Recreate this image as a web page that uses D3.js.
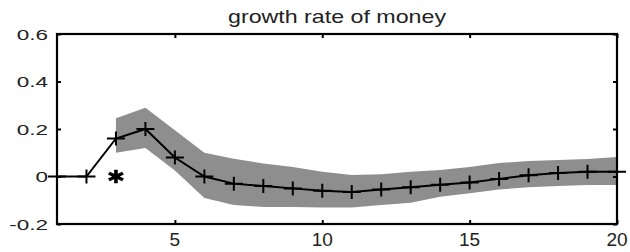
<!DOCTYPE html>
<html lang="en">
<head>
<meta charset="utf-8">
<title>growth rate of money</title>
<script src="https://cdn.jsdelivr.net/npm/d3@7"></script>
<style>
  body { margin: 0; background: #fff; }
  text { font-family: "Liberation Sans", Arial, sans-serif; fill: #222; }
</style>
</head>
<body>
<script>
// response horizon
var steps = [1, 2, 3, 4, 5, 6, 7, 8, 9, 10, 11, 12, 13, 14, 15, 16, 17, 18, 19, 20];
// point estimate
var response = [0, 0, 0.16, 0.20, 0.08, 0.0, -0.03, -0.04, -0.05, -0.06, -0.065, -0.055, -0.045, -0.035, -0.025, -0.01, 0.005, 0.015, 0.02, 0.02];
// confidence band (from step 3 on)
var bandSteps = [3, 4, 5, 6, 7, 8, 9, 10, 11, 12, 13, 14, 15, 16, 17, 18, 19, 20];
var bandUpper = [0.245, 0.29, 0.195, 0.10, 0.075, 0.055, 0.04, 0.02, 0.006, 0.01, 0.02, 0.027, 0.04, 0.057, 0.065, 0.07, 0.074, 0.082];
var bandLower = [0.10, 0.12, 0.025, -0.09, -0.12, -0.128, -0.128, -0.13, -0.13, -0.12, -0.11, -0.085, -0.07, -0.055, -0.045, -0.04, -0.036, -0.036];
// starred point
var starStep = [3];
var starValue = [0];
// ticks
var xTicks = [5, 10, 15, 20];
var yTicks = [-0.2, 0, 0.2, 0.4, 0.6];
var title = "growth rate of money";

var w = 630, h = 252;
var mLeft = 57, mRight = 617, mTop = 34, mBottom = 224;

var x = d3.scaleLinear().domain([1, 20]).range([mLeft, mRight]);
var y = d3.scaleLinear().domain([-0.2, 0.6]).range([mBottom, mTop]);

var svg = d3.select("body").append("svg")
  .attr("width", w)
  .attr("height", h);

//band
var band = bandSteps.map(function(s, i) { return {s: s, lo: bandLower[i], hi: bandUpper[i]}; });
svg.append("path")
  .datum(band)
  .attr("fill", "#8e8e8e")
  .attr("d", d3.area()
    .x(function(d) { return x(d.s); })
    .y0(function(d) { return y(d.lo); })
    .y1(function(d) { return y(d.hi); }));

//ticks, all pointing inward, labels drawn separately
var axes = [
  {a: d3.axisBottom(x).tickValues(xTicks), t: "translate(0," + mBottom + ")"},
  {a: d3.axisTop(x).tickValues(xTicks), t: "translate(0," + mTop + ")"},
  {a: d3.axisLeft(y).tickValues(yTicks), t: "translate(" + mLeft + ",0)"},
  {a: d3.axisRight(y).tickValues(yTicks), t: "translate(" + mRight + ",0)"}
];
axes.forEach(function(o) {
  o.a.tickSizeInner(-4).tickSizeOuter(0).tickFormat("");
  var g = svg.append("g").attr("transform", o.t).call(o.a);
  g.select(".domain").remove();
  g.selectAll(".tick text").remove();
  g.selectAll(".tick line").attr("stroke", "#000").attr("stroke-width", 2);
});

//x labels
svg.selectAll(".xlab")
  .data(xTicks)
  .enter().append("text")
  .attr("class", "xlab")
  .attr("x", function(d) { return x(d); })
  .attr("y", 246)
  .attr("text-anchor", "middle")
  .style("font-size", "19px")
  .text(function(d) { return d; });

//y labels, stretched like the original
svg.selectAll(".ylab")
  .data(yTicks)
  .enter().append("text")
  .attr("class", "ylab")
  .attr("transform", function(d) { return "translate(" + (mLeft - 9) + "," + (y(d) + 5.5) + ") scale(1.5,1)"; })
  .attr("text-anchor", "end")
  .style("font-size", "15px")
  .text(function(d) { return d === 0 ? "0" : String(d); });

//frame
svg.append("rect")
  .attr("x", mLeft).attr("y", mTop)
  .attr("width", mRight - mLeft).attr("height", mBottom - mTop)
  .attr("fill", "none")
  .attr("stroke", "#000")
  .attr("stroke-width", 2.2);

//title
svg.append("text")
  .attr("transform", "translate(" + ((mLeft + mRight) / 2) + ",23) scale(1.29,1)")
  .attr("text-anchor", "middle")
  .style("font-size", "18px")
  .text(title);

//response line
var pts = steps.map(function(s, i) { return {s: s, v: response[i]}; });
svg.append("path")
  .datum(pts)
  .attr("fill", "none")
  .attr("stroke", "#000")
  .attr("stroke-width", 2)
  .attr("d", d3.line()
    .x(function(d) { return x(d.s); })
    .y(function(d) { return y(d.v); }));

//plus markers
svg.selectAll(".plus")
  .data(pts)
  .enter().append("path")
  .attr("class", "plus")
  .attr("fill", "none")
  .attr("stroke", "#000")
  .attr("stroke-width", 2)
  .attr("d", function(d) {
    var cx = x(d.s), cy = y(d.v);
    return "M" + (cx - 9) + "," + cy + "H" + (cx + 9) + "M" + cx + "," + (cy - 7) + "V" + (cy + 7);
  });

//star marker
svg.selectAll(".star")
  .data(starStep)
  .enter().append("path")
  .attr("class", "star")
  .attr("fill", "none")
  .attr("stroke", "#000")
  .attr("stroke-width", 3)
  .attr("transform", function(d, i) { return "translate(" + x(d) + "," + y(starValue[i]) + ") scale(1.2,1)"; })
  .attr("d", d3.symbol().type(d3.symbolAsterisk).size(130));
</script>
</body>
</html>
